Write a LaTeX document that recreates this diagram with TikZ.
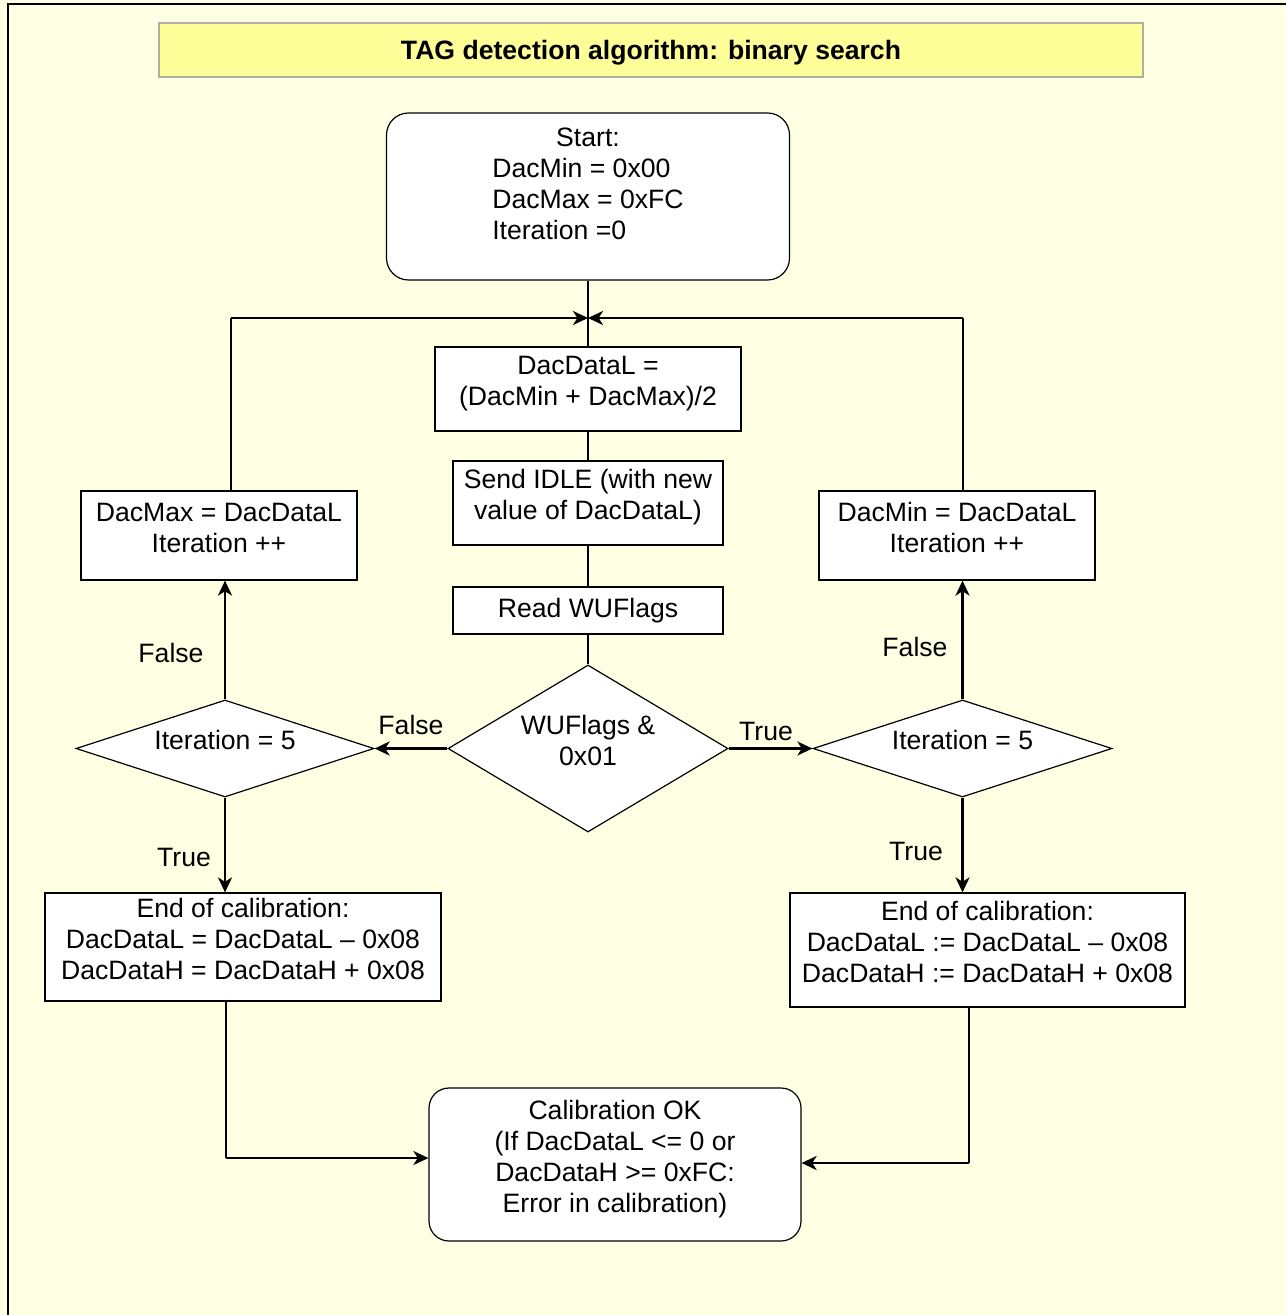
\documentclass[tikz,border=0pt]{standalone}
\usepackage{fontspec}
\setmainfont{Liberation Sans}
\usetikzlibrary{shapes.geometric,arrows.meta}
\definecolor{pagebg}{RGB}{255,255,228}
\definecolor{titlebg}{RGB}{255,255,153}
\definecolor{titleline}{RGB}{176,176,160}
\newcommand{\lines}[1]{\begin{tabular}{@{}c@{}}#1\rule[-9.7pt]{0pt}{0pt}\end{tabular}}
\begin{document}
\begin{tikzpicture}[x=0.5pt,y=-0.5pt,font=\fontsize{13.3}{15.5}\selectfont,
        box/.style={draw,fill=white,line width=0.6pt,inner sep=0pt},
        roundbox/.style={box,rounded corners=11pt},
        decision/.style={box,diamond},
        conn/.style={line width=0.55pt},
        arr/.style={line width=1.4pt,-{Stealth[length=7.5pt,width=7pt,inset=2.2pt]}}]
        \useasboundingbox (0,0) rectangle (1286,1315);
        \fill[pagebg] (0,0) rectangle (1286,1315);
        \draw[line width=1pt] (8,1315) -- (8,4) -- (1286,4); % marco
        \node[draw=titleline,fill=titlebg,line width=1pt,minimum width=492pt,minimum height=27pt,text depth=0pt,font=\fontsize{13.3}{15.5}\selectfont\bfseries] (title) at (651,50) {TAG detection algorithm: binary search};
        % columna central
        \node[roundbox,minimum width=201.5pt,minimum height=83.5pt] (start) at (588,196.5) {\begin{tabular}{@{}l@{}}\multicolumn{1}{@{}c@{}}{Start:}\\DacMin = 0x00\\DacMax = 0xFC\\Iteration =0\rule[-14pt]{0pt}{0pt}\end{tabular}};
        \node[box,minimum width=153pt,minimum height=42pt] (ddl) at (588,389) {\lines{DacDataL =\\(DacMin + DacMax)/2}};
        \node[box,minimum width=135pt,minimum height=42pt] (idle) at (588,503) {\lines{Send IDLE (with new\\value of DacDataL)}};
        \node[box,minimum width=135pt,minimum height=23.5pt] (read) at (588,610.5) {Read WUFlags};
        \node[decision,aspect=1.7,minimum width=140pt,minimum height=83.5pt] (wuf) at (588,748.5) {\lines{WUFlags \&\\0x01}};
        % ramas
        \node[decision,aspect=3,minimum width=149pt,minimum height=48.5pt] (itl) at (225,748.5) {\lines{Iteration = 5}};
        \node[decision,aspect=3,minimum width=149.5pt,minimum height=48.5pt] (itr) at (962.5,748.5) {\lines{Iteration = 5}};
        \node[box,minimum width=138pt,minimum height=44.5pt] (dmax) at (219,535.5) {\lines{DacMax = DacDataL\\Iteration ++}};
        \node[box,minimum width=138pt,minimum height=44.5pt] (dmin) at (957,535.5) {\lines{DacMin = DacDataL\\Iteration ++}};
        \node[box,minimum width=198pt,minimum height=54pt] (endl) at (243,947) {\lines{End of calibration:\\DacDataL = DacDataL -- 0x08\\DacDataH = DacDataH + 0x08}};
        \node[box,minimum width=197.5pt,minimum height=57pt] (endr) at (987.5,950) {\lines{End of calibration:\\DacDataL := DacDataL -- 0x08\\DacDataH := DacDataH + 0x08}};
        \node[roundbox,rounded corners=10pt,minimum width=186pt,minimum height=76.5pt] (calib) at (615,1164.5) {\lines{Calibration OK\\(If DacDataL <= 0 or\\DacDataH >= 0xFC:\\Error in calibration)}};
        % conexiones
        \coordinate (mg) at (588,318);
        \coordinate (jl) at (231,318);
        \coordinate (jr) at (963,318);
        \coordinate (bl) at (226,1158);
        \coordinate (br) at (969,1163);
        \draw[conn] (start) -- (ddl);
        \draw[conn] (ddl) -- (idle);
        \draw[conn] (idle) -- (read);
        \draw[conn] (read) -- (wuf);
        \draw[conn] (jl |- dmax.north) -- (jl);
        \draw[arr] (jl) -- (mg);
        \draw[conn] (jr |- dmin.north) -- (jr);
        \draw[arr] (jr) -- (mg);
        \draw[arr] (wuf) -- (itl);
        \draw[arr] (wuf) -- (itr);
        \draw[arr] (itl) -- (itl |- dmax.south);
        \draw[arr] (itl) -- (itl |- endl.north);
        \draw[arr] (itr) -- (itr |- dmin.south);
        \draw[arr] (itr) -- (itr |- endr.north);
        \draw[conn] (bl |- endl.south) -- (bl);
        \draw[arr] (bl) -- (bl -| calib.west);
        \draw[conn] (br |- endr.south) -- (br);
        \draw[arr] (br) -- (br -| calib.east);
        % etiquetas
        \node (f1) at (411,725) {False};
        \node (t1) at (766,731) {True};
        \node (f2) at (171,653) {False};
        \node (t2) at (184,857) {True};
        \node (f3) at (915,647) {False};
        \node (t3) at (916,851) {True};
\end{tikzpicture}
\end{document}
